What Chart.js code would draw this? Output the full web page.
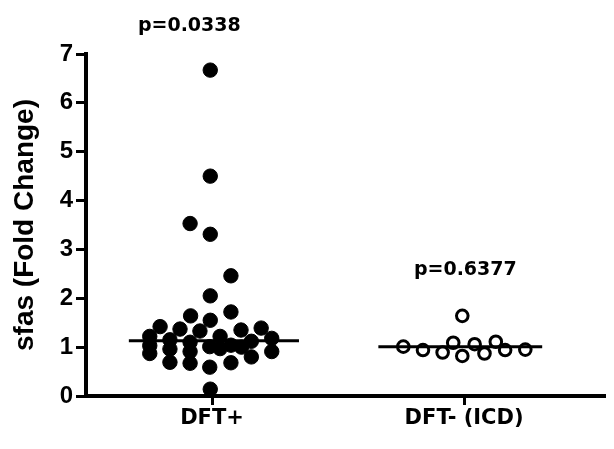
<!DOCTYPE html>
<html>
<head>
<meta charset="utf-8">
<script src="https://cdn.jsdelivr.net/npm/chart.js@4.4.1/dist/chart.umd.min.js"></script>
<style>
  html, body { margin: 0; padding: 0; background: #ffffff; }
  #wrap { width: 614px; height: 449px; }
</style>
</head>
<body>
<div id="wrap"><canvas id="c" width="614" height="449"></canvas></div>
<script>
// ---- data ----
const categories = ["DFT+", "DFT- (ICD)"];
const yTicks = [0, 1, 2, 3, 4, 5, 6, 7];
const dftPlusX = [-0.007, -0.007, -0.087, -0.007, 0.075, -0.007, 0.075, -0.085, -0.007,
  -0.206, -0.127, -0.048, 0.115, 0.195, -0.247, 0.032, -0.167, -0.087, 0.237, 0.156,
  -0.247, -0.009, 0.075, -0.167, -0.087, 0.032, 0.117, -0.247, 0.237, 0.156,
  -0.167, -0.087, 0.075, -0.009, -0.007];
const dftPlusY = [6.67, 4.50, 3.53, 3.31, 2.46, 2.05, 1.72, 1.64, 1.55,
  1.42, 1.37, 1.33, 1.35, 1.39, 1.22, 1.22, 1.15, 1.10, 1.18, 1.12,
  1.03, 1.01, 1.04, 0.96, 0.91, 0.97, 1.00, 0.87, 0.91, 0.80,
  0.69, 0.67, 0.68, 0.59, 0.14];
const dftMinusX = [0.759, 0.837, 0.915, 0.957, 0.993, 0.993, 1.042, 1.081, 1.126, 1.163, 1.243];
const dftMinusY = [1.01, 0.94, 0.89, 1.09, 0.82, 1.64, 1.06, 0.87, 1.11, 0.94, 0.95];
const medians = [1.13, 1.01];
const pValues = ["p=0.0338", "p=0.6377"];

const FONT = "'DejaVu Sans', 'Liberation Sans', Arial, sans-serif";
const ARIAL = "'Liberation Sans', Arial, sans-serif";

const toPts = (xs, ys) => xs.map((x, i) => ({ x: x, y: ys[i] }));

const pLabelPlugin = {
  id: 'pLabels',
  afterDraw(chart) {
    const ctx = chart.ctx;
    const xs = chart.scales.x, ys = chart.scales.y;
    const spots = [{ x: -0.09, y: 7.58 }, { x: 1.005, y: 2.58 }];
    ctx.save();
    ctx.fillStyle = '#000';
    ctx.font = "bold 19px " + FONT;
    ctx.textAlign = 'center';
    ctx.textBaseline = 'middle';
    pValues.forEach((t, i) => {
      ctx.fillText(t, xs.getPixelForValue(spots[i].x), ys.getPixelForValue(spots[i].y));
    });
    ctx.restore();
  }
};

new Chart(document.getElementById('c'), {
  type: 'scatter',
  data: {
    datasets: [
      {
        label: 'DFT+ median',
        data: [{ x: -0.33, y: medians[0] }, { x: 0.345, y: medians[0] }],
        showLine: true, borderColor: '#000', borderWidth: 3, pointRadius: 0, order: 0
      },
      {
        label: 'DFT- median',
        data: [{ x: 0.66, y: medians[1] }, { x: 1.31, y: medians[1] }],
        showLine: true, borderColor: '#000', borderWidth: 3, pointRadius: 0, order: 0
      },
      {
        label: categories[0],
        data: toPts(dftPlusX, dftPlusY),
        backgroundColor: '#000', borderColor: '#000', borderWidth: 1,
        pointRadius: 7.2, order: 1
      },
      {
        label: categories[1],
        data: toPts(dftMinusX, dftMinusY),
        backgroundColor: '#fff', borderColor: '#000', borderWidth: 3,
        pointRadius: 5.8, order: 1
      }
    ]
  },
  options: {
    responsive: false,
    animation: false,
    clip: false,
    layout: { padding: { top: 54, right: 0, left: 0, bottom: 0 } },
    plugins: { legend: { display: false }, tooltip: { enabled: false } },
    scales: {
      x: {
        type: 'linear',
        min: -0.5, max: 1.56,
        afterBuildTicks: (s) => { s.ticks = categories.map((c, i) => ({ value: i })); },
        afterFit: (s) => { s.height = 53; },
        ticks: {
          callback: (v) => categories[v],
          color: '#000',
          font: { family: FONT, weight: 'bold', size: 21 },
          padding: 1,
          maxRotation: 0,
          autoSkip: false
        },
        grid: { display: true, drawOnChartArea: false, drawTicks: true, tickLength: 9, tickWidth: 3, tickColor: '#000' },
        border: { display: true, color: '#000', width: 4 }
      },
      y: {
        min: 0, max: 7,
        afterBuildTicks: (s) => { s.ticks = yTicks.map(v => ({ value: v })); },
        afterFit: (s) => { s.width = 86; },
        ticks: {
          color: '#000',
          font: { family: ARIAL, weight: 'bold', size: 24 },
          padding: 3
        },
        title: {
          display: true,
          text: 'sfas (Fold Change)',
          color: '#000',
          font: { family: ARIAL, weight: 'bold', size: 28 },
          padding: { top: 8, bottom: 0 }
        },
        grid: { display: true, drawOnChartArea: false, drawTicks: true, tickLength: 10, tickWidth: 3, tickColor: '#000' },
        border: { display: true, color: '#000', width: 4 }
      }
    }
  },
  plugins: [pLabelPlugin]
});
</script>
</body>
</html>
